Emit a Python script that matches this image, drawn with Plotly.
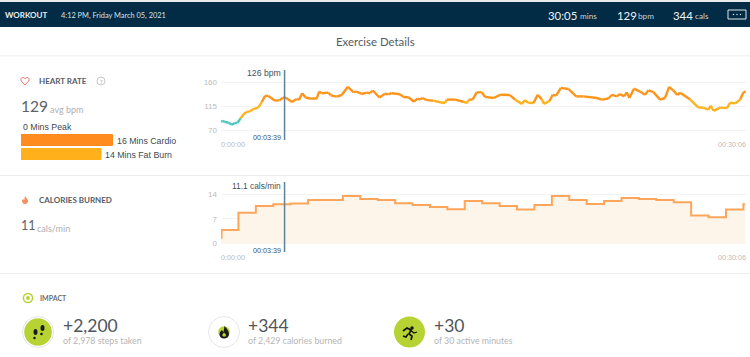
import plotly.graph_objects as go

W, H = 750, 357

hr_seconds = [0, 6, 14, 25, 37, 48, 56, 68, 77, 88, 100, 111, 129, 140, 152, 163, 186, 201, 213, 224, 244, 261, 269,
              280, 291, 307, 330, 338, 347, 370, 378, 399, 416, 437, 456, 468, 485, 502, 514, 523, 546, 565, 577, 588,
              617, 628, 646, 665, 677, 686, 694, 709, 732, 755, 772, 778, 807, 835, 847, 855, 867, 881, 898, 910, 939,
              962, 996, 1013, 1036, 1048, 1059, 1077, 1091, 1105, 1113, 1132, 1143, 1155, 1171, 1197, 1224, 1249, 1295,
              1312, 1335, 1347, 1364, 1375, 1389, 1398, 1407, 1423, 1444, 1461, 1473, 1490, 1513, 1530, 1544, 1559,
              1573, 1582, 1617, 1645, 1662, 1679, 1688, 1697, 1720, 1743, 1754, 1772, 1789, 1800, 1808]
hr_bpm = [85, 87.5, 85, 84, 80, 83, 83, 92, 99, 104, 105, 109, 112.5, 122, 134, 134, 125, 125.6, 130.6, 130.6, 122.5,
          128, 127, 139, 131, 129, 129, 142, 139, 140, 135, 132.5, 135.6, 151, 141, 142, 137.5, 140, 139, 144, 131,
          138, 137, 139, 137, 132, 131.5, 123, 129, 127, 130, 126, 125, 122, 120.6, 127, 127, 123, 120.6, 127, 127,
          140.6, 141, 132, 130, 136, 135.6, 127, 119, 126, 121, 120.6, 136, 128, 119, 124.4, 136, 134.4, 149, 146.9,
          133, 133, 130, 127, 129, 136, 133, 137.5, 133, 140.6, 130, 147.5, 142, 136, 144.4, 141, 127, 130, 151,
          143.8, 135.6, 140, 127, 112, 112, 108, 115.6, 106, 112, 111, 121, 120, 127, 140.6, 142]

cal_seconds = [0, 2, 60, 120, 180, 240, 300, 360, 420, 480, 540, 600, 660, 720, 780, 840, 900, 960, 1020, 1080, 1140,
               1200, 1260, 1320, 1380, 1440, 1500, 1560, 1620, 1680, 1740, 1800, 1806]
cal_rate = [1.6, 3.8, 8.7, 10.6, 11.1, 11.3, 12.3, 12.3, 13.4, 12.6, 12.3, 11.4, 10.9, 10.3, 9.7, 12.0, 11.4, 10.6,
            9.6, 10.9, 13.4, 12.3, 11.2, 12.0, 12.9, 12.6, 12.3, 11.7, 7.9, 7.4, 9.6, 11.1, 11.1]

zone_names = ["Cardio", "Fat Burn", "Peak"]
zone_minutes = [16, 14, 0]

cursor_seconds = 219
hr_ticks = [70, 115, 160]
cal_ticks = [0, 7, 14]

TEAL, YEL, ORG = "#4fc9c0", "#fdb21e", "#fd951c"
ZONE_FILLS = ["#ff8a1e", "#ffb01a", "#ffffff"]
GREEN = "#b6d333"
NAVY = "#022c45"
SANS = "Lato, 'Open Sans', sans-serif"
ARIAL = "'Liberation Sans', Arial, sans-serif"


def zone_of(v):
    return 0 if v < 93 else (1 if v < 125 else 2)


def zone_segments(times, vals):
    out = [([], []), ([], []), ([], [])]
    for i in range(len(times) - 1):
        z = zone_of((vals[i] + vals[i + 1]) / 2)
        out[z][0].extend([times[i], times[i + 1], None])
        out[z][1].extend([vals[i], vals[i + 1], None])
    return out


fig = go.Figure()

# heart-rate line by zone
for (xs, ys), col in zip(zone_segments(hr_seconds, hr_bpm), [TEAL, YEL, ORG]):
    fig.add_trace(go.Scatter(x=xs, y=ys, mode="lines", line=dict(color=col, width=2.4),
                             xaxis="x", yaxis="y", showlegend=False, hoverinfo="skip"))

# calories
fig.add_trace(go.Scatter(x=cal_seconds, y=cal_rate, mode="lines", line=dict(color="#fda55a", width=2, shape="hv"),
                         fill="tozeroy", fillcolor="#fef5ea", xaxis="x2", yaxis="y2", showlegend=False,
                         hoverinfo="skip"))

# zone bars
fig.add_trace(go.Bar(x=zone_minutes, y=zone_names, orientation="h", marker=dict(color=ZONE_FILLS, line_width=0),
                     xaxis="x3", yaxis="y3", showlegend=False, hoverinfo="skip"))


def xd(a, b):
    return [a / W, b / W]


def yd(top, bot):
    return [1 - bot / H, 1 - top / H]


fig.update_layout(
    width=W, height=H, margin=dict(l=0, r=0, t=0, b=0), plot_bgcolor="rgba(0,0,0,0)", paper_bgcolor="white",
    autosize=False, bargap=0.14, barcornerradius=1,
    xaxis=dict(domain=xd(221, 746), range=[0, 1809], visible=False),
    yaxis=dict(domain=yd(70, 140), range=[115 - 34 * 45 / 24, 115 + 36 * 45 / 24], tickvals=hr_ticks,
               showgrid=True, gridcolor="#f3f3f3", gridwidth=1, zeroline=False, showline=False, ticks="",
               tickfont=dict(family=ARIAL, size=8, color="#bbbbbb"), anchor="x", ticklabelstandoff=3),
    xaxis2=dict(domain=xd(221, 746), range=[0, 1809], visible=False),
    yaxis2=dict(domain=yd(182, 252), range=[-8.5 / 3.536, 61.5 / 3.536], tickvals=cal_ticks,
                showgrid=True, gridcolor="#f3f3f3", gridwidth=1, zeroline=False, showline=False, ticks="",
                tickfont=dict(family=ARIAL, size=8, color="#bbbbbb"), anchor="x2", ticklabelstandoff=3),
    xaxis3=dict(domain=xd(21, 116), range=[0, 16.52], visible=False),
    yaxis3=dict(domain=yd(133, 161), range=[1.5, -0.5], visible=False, anchor="x3",
                categoryorder="array", categoryarray=zone_names),
    xaxis4=dict(domain=[0, 1], range=[0, W], visible=False, anchor="y4"),
    yaxis4=dict(domain=[0, 1], range=[H, 0], visible=False, anchor="x4"),
)

shapes = []
annos = []


def rect(x0, y0, x1, y1, fill, layer="below"):
    shapes.append(dict(type="rect", xref="x4", yref="y4", x0=x0, y0=y0, x1=x1, y1=y1, fillcolor=fill,
                       line_width=0, layer=layer))


def circ(cx, cy, r, fill="rgba(0,0,0,0)", line=None, lw=1, ry=None):
    ry = ry if ry is not None else r
    shapes.append(dict(type="circle", xref="x4", yref="y4", x0=cx - r, y0=cy - ry, x1=cx + r, y1=cy + ry,
                       fillcolor=fill, line=dict(color=line or "rgba(0,0,0,0)", width=lw if line else 0),
                       layer="above"))


def path(d, fill="rgba(0,0,0,0)", line=None, lw=1):
    shapes.append(dict(type="path", xref="x4", yref="y4", path=d, fillcolor=fill,
                       line=dict(color=line or "rgba(0,0,0,0)", width=lw if line else 0), layer="above"))


def text(x, y, s, size, color, anchor="left", family=SANS):
    annos.append(dict(xref="x4", yref="y4", x=x, y=y, text=s, showarrow=False, xanchor=anchor, yanchor="middle",
                      font=dict(size=size, color=color, family=family), borderpad=0, borderwidth=0))


# page bands
rect(0, 0, W, 2, "#e9e9e9")
rect(0, 2, W, 27, NAVY)
rect(0, 55, W, 56.5, "#f4f4f4")
rect(0, 175, W, 176, "#eeeeee")
rect(0, 273, W, 274, "#eeeeee")

# header
text(5, 15, "<b>WORKOUT</b>", 8, "#e8eef2")
text(61, 15, "4:12 PM, Friday March 05, 2021", 7.4, "#d8e0e6")
text(548, 15, "30:05", 11.4, "#eef2f5")
text(580, 15.5, "mins", 8.2, "#c8d2da")
text(617, 15, "129", 11.4, "#eef2f5")
text(637.5, 15.5, "bpm", 8.2, "#c8d2da")
text(673, 15, "344", 11.4, "#eef2f5")
text(695, 15.5, "cals", 8.2, "#c8d2da")
shapes.append(dict(type="rect", xref="x4", yref="y4", x0=728, y0=10, x1=746, y1=19, fillcolor=NAVY,
                   line=dict(color="#dfe6ea", width=1), layer="above"))
for cx in (733.5, 737, 740.5):
    circ(cx, 14.5, 0.7, "#dfe6ea")
text(375.5, 41, "Exercise Details", 11.4, "#555c60", "center")

# heart-rate panel
path("M25,85 L21.3,81 C20.2,79.5 21,77.5 23,77.5 C24,77.5 24.7,78 25,79 C25.3,78 26,77.5 27,77.5 "
     "C29,77.5 29.8,79.5 28.7,81 Z", line="#f0786c", lw=1)
text(39, 81, "<b>HEART RATE</b>", 8, "#555c66")
circ(101, 81, 4, "white", "#c8c8c8", 1)
text(101, 81, "?", 6, "#aaaaaa", "center")
text(20.5, 106, "129", 15.5, "#5a6268")
text(49.5, 109.5, "avg bpm", 9, "#b0b0b0")
text(23, 127, "0 Mins Peak", 8.8, "#44494d", family=ARIAL)
text(116.5, 141, "16 Mins Cardio", 8.8, "#44494d", family=ARIAL)
text(104.5, 155, "14 Mins Fat Burn", 8.8, "#44494d", family=ARIAL)

# calories panel
path("M25,196 C26,198 28,199 28,201 C28,203 26.5,204 25,204 C23.5,204 22,203 22,201 C22,200 23,199 23.5,199 "
     "C23.7,200 24,200 24.3,200 C24.6,198.5 24.5,197.5 25,196 Z", "#f5905a")
text(39, 200, "<b>CALORIES BURNED</b>", 8, "#555c66")
text(20.5, 225, "11", 12.5, "#5a6268")
text(37, 228, "cals/min", 9, "#b0b0b0")

# cursors and labels
for top, bot in ((70, 140), (182, 252)):
    shapes.append(dict(type="line", xref="x", yref="y4", x0=cursor_seconds, x1=cursor_seconds, y0=top, y1=bot,
                       line=dict(color="#5f8297", width=1.5), layer="above"))
text(281, 73, "126 bpm", 8.7, "#44525c", "right", ARIAL)
text(281, 137, "00:03:39", 7.2, "#44525c", "right", ARIAL)
text(281, 185.5, "11.1 cals/min", 8.4, "#44525c", "right", ARIAL)
text(281, 250, "00:03:39", 7.2, "#44525c", "right", ARIAL)
for y in (144, 257):
    text(220.5, y, "0:00:00", 7.2, "#bbbbbb", "left", ARIAL)
    text(746, y, "00:30:06", 7.2, "#bbbbbb", "right", ARIAL)

# impact panel
circ(28, 298, 4.6, "white", GREEN, 1.5)
circ(28, 298, 1.9, GREEN)
text(40, 297.5, "<b>IMPACT</b>", 7, "#6a6f74")

circ(38, 332, 15.5, "white", "#e6e6e6", 1)
circ(38, 332, 13.8, GREEN)
for cx, cy, rx, ry in ((35.5, 332, 2.0, 3.0), (34.5, 338, 1.3, 1.3), (42.5, 328, 2.0, 3.0), (41.5, 334, 1.3, 1.3)):
    circ(cx, cy, rx, "#1b1b1b", ry=ry)
text(62.5, 325, "+2,200", 17.5, "#50565c")
text(62.5, 340.5, "of 2,978 steps taken", 8.8, "#b5b5b5")

circ(224, 332, 15.5, "white", "#e6e6e6", 1)
circ(224, 332, 5.8, GREEN)
path("M224.5,326 C227,329 229,331 229,334 C229,337 226.5,338.5 224,338.5 C221.5,338.5 219.5,337 219.5,334 "
     "C219.5,332 221,331 222,330 C222.5,331 223,331.5 223.5,332 C224,330 224,328 224.5,326 Z "
     "M224,332.5 C222.5,334 222,335 222.5,336 C223.5,337 225.5,337 226,335.5 C226.3,334.5 225,333.5 224,332.5 Z",
     "#1b1b1b")
text(248, 325, "+344", 17.5, "#50565c")
text(248, 340.5, "of 2,429 calories burned", 8.8, "#b5b5b5")

circ(409.5, 332, 15.5, GREEN)
circ(412, 328, 1.7, "#111111")
path("M403,331 L407,328 L411,330 L409,334 L412,336 L411,340", line="#111111", lw=1.7)
path("M410,330 L414,333 L417,332", line="#111111", lw=1.3)
path("M408,334 L406,337 L403,336", line="#111111", lw=1.5)
text(434, 325, "+30", 17.5, "#50565c")
text(434, 340.5, "of 30 active minutes", 8.8, "#b5b5b5")

fig.update_layout(shapes=shapes, annotations=annos)
fig.write_html("out.html", config={"displayModeBar": False},
               post_script="document.body.style.margin='0';document.body.style.overflow='hidden';")
